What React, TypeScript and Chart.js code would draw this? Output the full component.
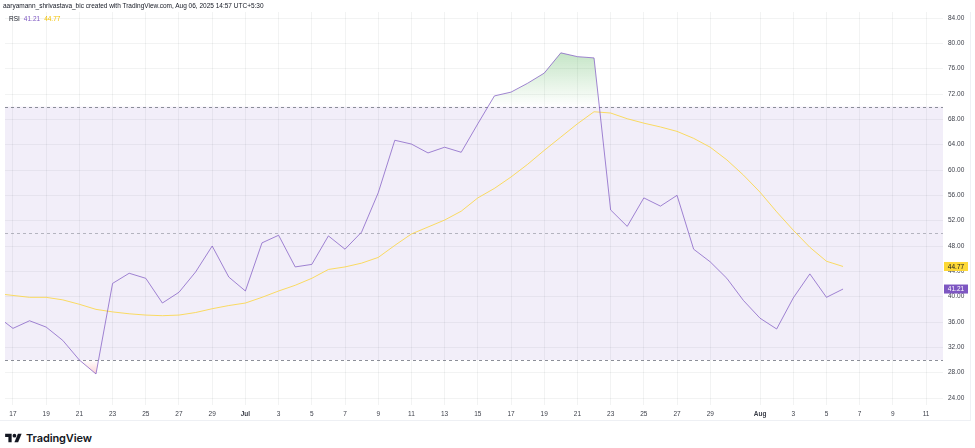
import React, { useEffect, useRef } from "react";
import { Chart, registerables } from "chart.js";

Chart.register(...registerables);

// ---- Data (daily, 2025) ----
const dates = [
  "06-16", "06-17", "06-18", "06-19", "06-20", "06-21", "06-22", "06-23", "06-24", "06-25",
  "06-26", "06-27", "06-28", "06-29", "06-30",
  "07-01", "07-02", "07-03", "07-04", "07-05", "07-06", "07-07", "07-08", "07-09", "07-10",
  "07-11", "07-12", "07-13", "07-14", "07-15", "07-16", "07-17", "07-18", "07-19", "07-20",
  "07-21", "07-22", "07-23", "07-24", "07-25", "07-26", "07-27", "07-28", "07-29", "07-30", "07-31",
  "08-01", "08-02", "08-03", "08-04", "08-05", "08-06",
];

const rsiValues = [
  37.0, 35.0, 36.2, 35.2, 33.1, 30.0, 27.8, 42.1, 43.7, 42.9,
  39.0, 40.7, 43.9, 48.0, 43.1,
  40.9, 48.5, 49.7, 44.7, 45.1, 49.6, 47.5, 50.2, 56.4, 64.7,
  64.1, 62.7, 63.6, 62.8, 67.3, 71.7, 72.3, 73.7, 75.3, 78.5,
  77.9, 77.7, 53.7, 51.1, 55.6, 54.3, 56.0, 47.5, 45.5, 42.9, 39.4,
  36.6, 34.9, 39.8, 43.6, 39.9, 41.21,
];

const rsiMaValues = [
  40.5, 40.2, 39.9, 39.9, 39.5, 38.8, 38.0, 37.6, 37.3, 37.1,
  37.0, 37.1, 37.5, 38.1, 38.6,
  39.0, 39.9, 40.9, 41.8, 42.9, 44.3, 44.7, 45.3, 46.2, 48.1,
  49.9, 51.0, 52.1, 53.5, 55.6, 57.1, 58.9, 60.9, 63.1, 65.2,
  67.3, 69.2, 69.0, 68.1, 67.4, 66.8, 66.1, 65.0, 63.6, 61.6, 59.2,
  56.5, 53.4, 50.5, 47.8, 45.6, 44.77,
];

const tickDates = [
  "06-17", "06-19", "06-21", "06-23", "06-25", "06-27", "06-29",
  "07-01", "07-03", "07-05", "07-07", "07-09", "07-11", "07-13", "07-15", "07-17", "07-19",
  "07-21", "07-23", "07-25", "07-27", "07-29",
  "08-01", "08-03", "08-05", "08-07", "08-09", "08-11",
];
const tickLabels = [
  "17", "19", "21", "23", "25", "27", "29",
  "Jul", "3", "5", "7", "9", "11", "13", "15", "17", "19",
  "21", "23", "25", "27", "29",
  "Aug", "3", "5", "7", "9", "11",
];

const yTicks = [24, 28, 32, 36, 40, 44, 48, 52, 56, 60, 64, 68, 72, 76, 80, 84];
const bandUpper = 70;
const bandMiddle = 50;
const bandLower = 30;

const RSI_COLOR = "#7e57c2";
const RSI_LINE = "rgba(126,87,194,0.72)";
const MA_COLOR = "#fdd835";
const MA_LINE = "rgba(251,213,60,0.8)";
const TEXT = "#3b3e48";
const FONT = "'Liberation Sans', Arial, sans-serif";

function dayIndex(md: string): number {
  const [m, d] = md.split("-").map(Number);
  return (Date.UTC(2025, m - 1, d) - Date.UTC(2025, 5, 17)) / 86400000;
}

const overlayPlugin = {
  id: "rsiOverlay",
  beforeDatasetsDraw(chart: any) {
    const { ctx, chartArea: a, scales } = chart;
    const x = scales.x;
    const y = scales.y;
    const y70 = y.getPixelForValue(bandUpper);
    const y50 = y.getPixelForValue(bandMiddle);
    const y30 = y.getPixelForValue(bandLower);

    ctx.save();
    ctx.beginPath();
    ctx.rect(a.left, a.top, a.right - a.left, a.bottom - a.top);
    ctx.clip();

    ctx.fillStyle = "rgba(126,87,194,0.1)";
    ctx.fillRect(a.left, y70, a.right - a.left, y30 - y70);

    const pts = rsiValues.map((v, i) => [x.getPixelForValue(dayIndex(dates[i])), y.getPixelForValue(v)]);

    const tracePath = (baseY: number) => {
      ctx.beginPath();
      ctx.moveTo(pts[0][0], baseY);
      pts.forEach((p) => ctx.lineTo(p[0], p[1]));
      ctx.lineTo(pts[pts.length - 1][0], baseY);
      ctx.closePath();
    };

    ctx.save();
    ctx.beginPath();
    ctx.rect(a.left, a.top, a.right - a.left, y70 - a.top);
    ctx.clip();
    const topY = y.getPixelForValue(Math.max(...rsiValues));
    const g1 = ctx.createLinearGradient(0, topY, 0, y70);
    g1.addColorStop(0, "rgba(76,175,80,0.32)");
    g1.addColorStop(1, "rgba(76,175,80,0)");
    tracePath(y70);
    ctx.fillStyle = g1;
    ctx.fill();
    ctx.restore();

    ctx.save();
    ctx.beginPath();
    ctx.rect(a.left, y30, a.right - a.left, a.bottom - y30);
    ctx.clip();
    const botY = y.getPixelForValue(Math.min(...rsiValues));
    const g2 = ctx.createLinearGradient(0, y30, 0, botY);
    g2.addColorStop(0, "rgba(242,54,69,0)");
    g2.addColorStop(1, "rgba(242,54,69,0.22)");
    tracePath(y30);
    ctx.fillStyle = g2;
    ctx.fill();
    ctx.restore();

    ctx.lineWidth = 1;
    ctx.setLineDash([3, 3]);
    [
      [y70, "rgba(120,123,134,0.85)"],
      [y50, "rgba(120,123,134,0.5)"],
      [y30, "rgba(120,123,134,0.85)"],
    ].forEach(([py, col]) => {
      ctx.strokeStyle = col as string;
      ctx.beginPath();
      const yy = Math.round(py as number) + 0.5;
      ctx.moveTo(a.left, yy);
      ctx.lineTo(a.right, yy);
      ctx.stroke();
    });
    ctx.restore();
  },
  afterDraw(chart: any) {
    const { ctx, chartArea: a, scales } = chart;
    const y = scales.y;
    const boxes = [
      { v: rsiMaValues[rsiMaValues.length - 1], bg: MA_COLOR, fg: "#131722" },
      { v: rsiValues[rsiValues.length - 1], bg: RSI_COLOR, fg: "#ffffff" },
    ];
    ctx.save();
    ctx.font = `6.5px ${FONT}`;
    ctx.textAlign = "center";
    ctx.textBaseline = "middle";
    boxes.forEach((b) => {
      const py = y.getPixelForValue(b.v);
      ctx.fillStyle = b.bg;
      ctx.fillRect(a.right + 1, py - 4.5, 24, 9);
      ctx.fillStyle = b.fg;
      ctx.fillText(b.v.toFixed(2), a.right + 13, py + 0.5);
    });
    ctx.restore();
  },
};

export default function App() {
  const canvasRef = useRef<HTMLCanvasElement | null>(null);

  useEffect(() => {
    if (!canvasRef.current) return;
    const chart = new Chart(canvasRef.current, {
      type: "line",
      data: {
        datasets: [
          {
            label: "RSI",
            data: rsiValues.map((v, i) => ({ x: dayIndex(dates[i]), y: v })),
            borderColor: RSI_LINE,
            borderWidth: 1,
            pointRadius: 0,
            tension: 0,
            fill: false,
          },
          {
            label: "RSI-based MA",
            data: rsiMaValues.map((v, i) => ({ x: dayIndex(dates[i]), y: v })),
            borderColor: MA_LINE,
            borderWidth: 1,
            pointRadius: 0,
            tension: 0,
            fill: false,
          },
        ],
      },
      options: {
        animation: false,
        responsive: true,
        maintainAspectRatio: false,
        layout: { padding: { top: 12, left: 5, right: 0, bottom: 0 } },
        plugins: {
          legend: { display: false },
          tooltip: { enabled: false },
        },
        scales: {
          x: {
            type: "linear",
            min: -0.48,
            max: 56.02,
            afterFit(scale: any) {
              scale.height = 16;
            },
            afterBuildTicks(scale: any) {
              scale.ticks = tickDates.map((d) => ({ value: dayIndex(d) }));
            },
            grid: { color: "rgba(42,46,57,0.06)", drawTicks: false },
            border: { display: false },
            ticks: {
              autoSkip: false,
              maxRotation: 0,
              padding: 5,
              color: TEXT,
              font: (ctx: any) => ({
                family: FONT,
                size: 6.5,
                weight: tickLabels[ctx.index] === "Jul" || tickLabels[ctx.index] === "Aug" ? "bold" : "normal",
              }),
              callback: (_v: any, i: number) => tickLabels[i],
            },
          },
          y: {
            position: "right",
            min: 22.9,
            max: 84.95,
            afterFit(scale: any) {
              scale.width = 32;
            },
            afterBuildTicks(scale: any) {
              scale.ticks = yTicks.map((v) => ({ value: v }));
            },
            grid: { color: "rgba(42,46,57,0.06)", drawTicks: false },
            border: { display: false },
            ticks: {
              padding: 5,
              color: TEXT,
              font: { family: FONT, size: 6.5 },
              callback: (v: any) => Number(v).toFixed(2),
            },
          },
        },
      },
      plugins: [overlayPlugin],
    });
    return () => chart.destroy();
  }, []);

  return (
    <div
      style={{
        position: "fixed",
        left: 0,
        top: 0,
        width: 975,
        height: 448,
        background: "#ffffff",
        fontFamily: FONT,
        color: "#131722",
        overflow: "hidden",
      }}
    >
      <div style={{ position: "absolute", left: 0, top: 0, width: 975, height: 421 }}>
        <canvas ref={canvasRef} />
      </div>
      <div
        style={{
          position: "absolute",
          left: 0,
          top: 12,
          width: 971,
          height: 409,
          borderRight: "1px solid #eef0f4",
          borderBottom: "1px solid #eef0f4",
          boxSizing: "border-box",
          pointerEvents: "none",
        }}
      />
      <div style={{ position: "absolute", left: 3, top: 2, fontSize: 6.5, lineHeight: "8px", whiteSpace: "nowrap" }}>
        aaryamann_shrivastava_bic created with TradingView.com, Aug 06, 2025 14:57 UTC+5:30
      </div>
      <div style={{ position: "absolute", left: 9, top: 15, fontSize: 6.5, lineHeight: "8px", whiteSpace: "nowrap" }}>
        <span>RSI</span>
        <span style={{ color: RSI_COLOR, marginLeft: 4 }}>41.21</span>
        <span style={{ color: "#f2c200", marginLeft: 4 }}>44.77</span>
      </div>
      <div style={{ position: "absolute", left: 5, top: 431, display: "flex", alignItems: "center" }}>
        <svg width="17" height="13" viewBox="0 0 36 28">
          <path d="M14 22H7V11H0V4h14v18z" fill="#131722" />
          <path d="M28 22h-8l7.5-18h8L28 22z" fill="#131722" />
          <circle cx="20" cy="8" r="4" fill="#131722" />
        </svg>
        <span style={{ marginLeft: 4, fontSize: 11, fontWeight: 600, fontFamily: "Inter, sans-serif", letterSpacing: -0.1 }}>
          TradingView
        </span>
      </div>
    </div>
  );
}
